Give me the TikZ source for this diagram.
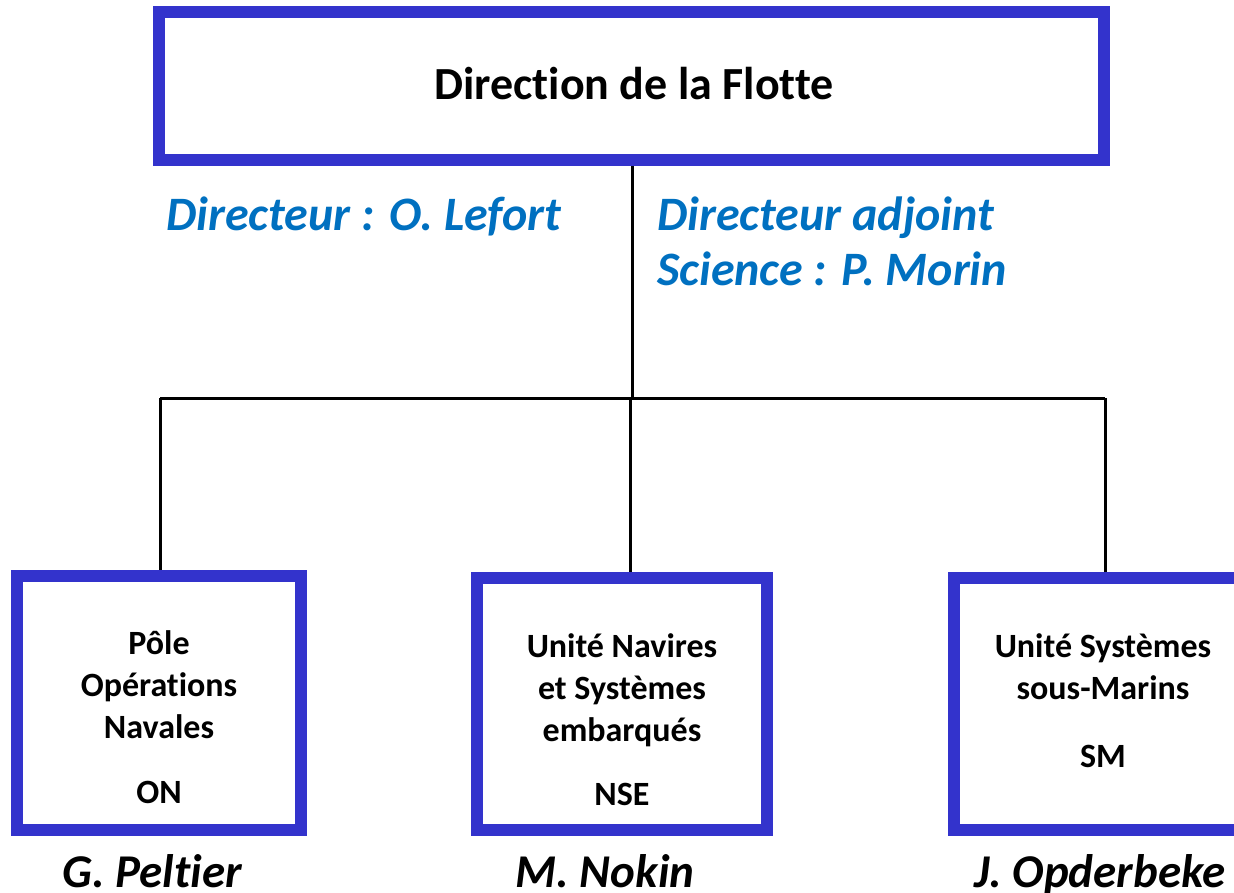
\documentclass[tikz,border=0pt]{standalone}
\usepackage{fontspec}
\setmainfont{Carlito}[Ligatures=NoCommon]
\definecolor{boxblue}{HTML}{3333CC}
\definecolor{txtblue}{HTML}{0070C0}
\begin{document}
\begin{tikzpicture}[x=1pt,y=-1pt,
  orgbox/.style={draw=boxblue,line width=12pt,fill=white,inner sep=0pt},
  link/.style={draw=black,line width=3pt},
  boxtext/.style={font=\fontsize{34}{42}\selectfont\bfseries,align=center,inner sep=0pt,anchor=base},
  bluetext/.style={font=\fontsize{48}{55}\selectfont\bfseries\itshape,text=txtblue,inner sep=0pt,anchor=base west},
  nametext/.style={font=\fontsize{47}{52}\selectfont\bfseries\itshape,inner sep=0pt,anchor=base}]
\useasboundingbox (0,0) rectangle (1234,893);
% top box
\node[orgbox,minimum width=945pt,minimum height=148pt] (top) at (631.5,86) {};
\node[font=\fontsize{46}{52}\selectfont\bfseries,inner sep=0pt,anchor=base] (toplbl) at (634,100) {Direction de la Flotte};
% blue texts
\node[bluetext] (dir) at (166,231) {Directeur : O. Lefort};
\node[bluetext] (adj1) at (657,231) {Directeur adjoint};
\node[bluetext] (adj2) at (657,286) {Science : P. Morin};
% boxes
\node[orgbox,minimum width=284pt,minimum height=254pt] (left) at (159,703) {};
\node[orgbox,minimum width=290pt,minimum height=252pt] (mid) at (622,704) {};
\node[orgbox,minimum width=300pt,minimum height=252pt] (right) at (1104,704) {};
% connectors
\coordinate (hub) at (632,398);
\coordinate (hl) at (160,398);
\coordinate (hr) at (1105,398);
\coordinate (hm) at (630,398);
\draw[link] (top.south -| hub) -- (hub);
\draw[link] (hl) -- (hr);
\draw[link] (hl) -- (hl |- left.north);
\draw[link] (hm) -- (hm |- mid.north);
\draw[link] (hr) -- (hr |- right.north);
% box texts
\node[boxtext] (lefttxt) at (159,803) {Pôle\\Opérations\\Navales\\[23pt]ON};
\node[boxtext] (midtxt) at (622,805) {Unité Navires\\et Systèmes\\embarqués\\[22pt]NSE};
\node[boxtext] (righttxt) at (1103,767) {Unité Systèmes\\sous-Marins\\[26pt]SM};
% names
\node[nametext] (n1) at (152,887) {G. Peltier};
\node[nametext] (n2) at (605,887) {M. Nokin};
\node[nametext] (n3) at (1100,887) {J. Opderbeke};
\end{tikzpicture}
\end{document}
